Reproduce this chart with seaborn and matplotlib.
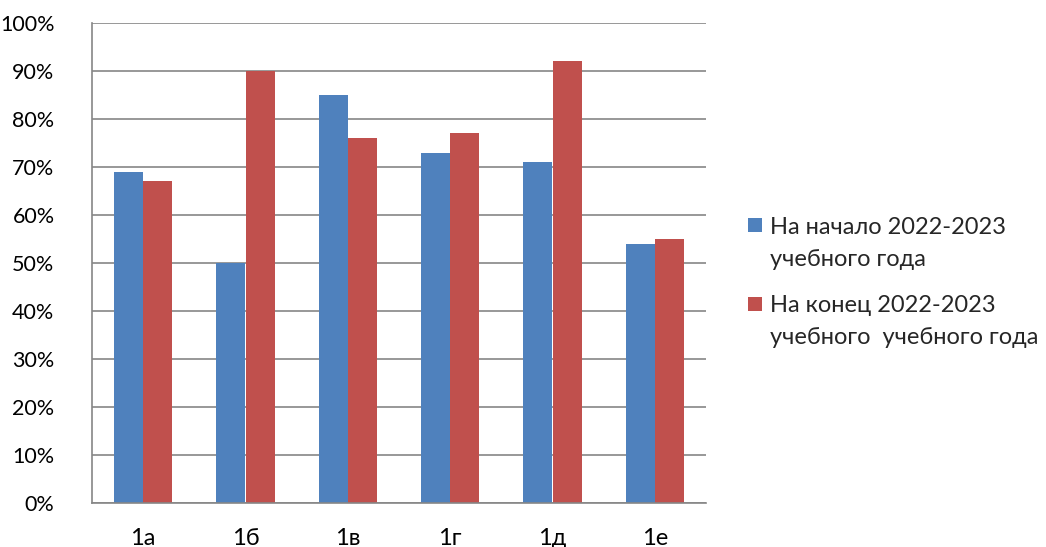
import matplotlib
matplotlib.use("Agg")
import matplotlib.pyplot as plt
import seaborn as sns
import pandas as pd
import numpy as np
from matplotlib.patches import Rectangle

categories = ["1а", "1б", "1в", "1г", "1д", "1е"]
start_vals = [69, 50, 85, 73, 71, 54]
end_vals = [67, 90, 76, 77, 92, 55]
series_names = ["На начало 2022-2023", "На конец 2022-2023"]
series_lines2 = ["учебного года", "учебного  учебного года"]
colors = ["#4F81BD", "#C0504D"]

df = pd.DataFrame({
    "cat": categories * 2,
    "val": start_vals + end_vals,
    "series": [series_names[0]] * len(categories) + [series_names[1]] * len(categories),
})

sns.set_theme(style="white")
plt.rcParams["font.family"] = ["Lato", "DejaVu Sans"]
FS = 17

W, H = 1046, 547
fig = plt.figure(figsize=(W/100, H/100), dpi=100)
ax = fig.add_axes([92/W, 44/H, (706-92)/W, (503-23)/H])

sns.barplot(data=df, x="cat", y="val", hue="series", palette=colors,
            width=0.57, gap=0, ax=ax, legend=False, saturation=1,
            linewidth=0, edgecolor="none")

grid_c = "#868686"
ax.set_ylim(0, 100)
ax.set_xlim(-0.5, len(categories) - 0.5)
ax.set_yticks(np.arange(0, 101, 10))
ax.set_yticklabels([f"{v}%" for v in range(0, 101, 10)], fontsize=15.5)
ax.yaxis.grid(True, color=grid_c, linewidth=1.2)
ax.set_axisbelow(True)
ax.set_xlabel("")
ax.set_ylabel("")
ax.tick_params(axis="y", length=8, color=grid_c, width=1.2, pad=19, labelcolor="black")
ax.tick_params(axis="x", which="major", length=0, pad=18, labelsize=FS, labelcolor="black")
ax.set_xticks(np.arange(-0.5, len(categories)), minor=True)
ax.tick_params(axis="x", which="minor", length=8, color=grid_c, width=1.2)
for s in ["top", "right"]:
    ax.spines[s].set_visible(False)
for s in ["left", "bottom"]:
    ax.spines[s].set_color(grid_c)
    ax.spines[s].set_linewidth(1.2)

# legend drawn manually to match layout (square aligned with first line)
sq_tops = [218, 297]
base1 = [234, 312]
base2 = [266, 344]
for i in range(2):
    fig.patches.append(Rectangle((748/W, 1 - (sq_tops[i] + 14)/H), 14/W, 14/H,
                                 transform=fig.transFigure, facecolor=colors[i],
                                 edgecolor="none"))
    fig.text(770/W, 1 - base1[i]/H, series_names[i], fontsize=FS, va="baseline", ha="left")
    fig.text(770/W, 1 - base2[i]/H, series_lines2[i], fontsize=FS, va="baseline", ha="left")

fig.savefig("out.png", dpi=100)
